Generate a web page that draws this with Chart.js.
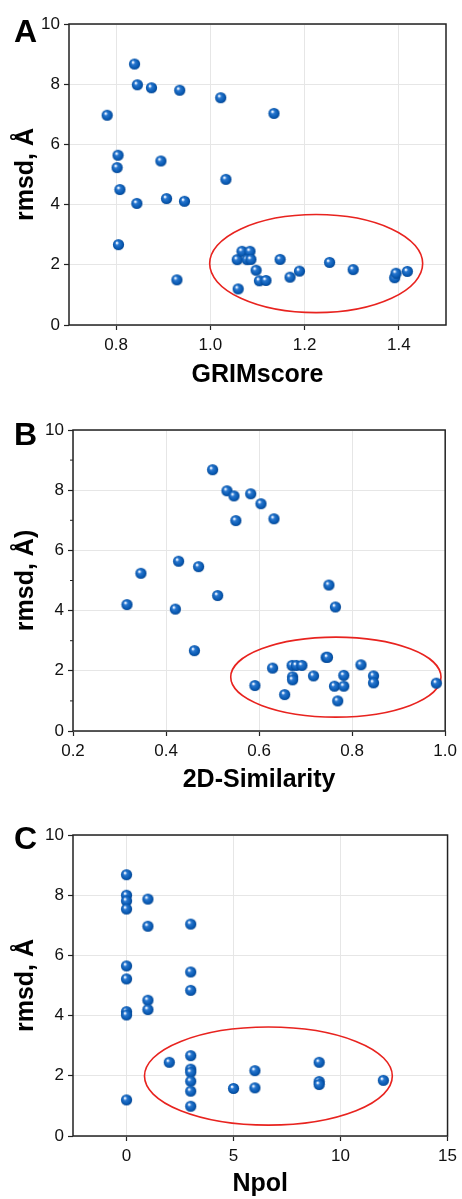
<!DOCTYPE html>
<html>
<head>
<meta charset="utf-8">
<script src="https://cdn.jsdelivr.net/npm/chart.js@4/dist/chart.umd.min.js"></script>
<style>
  body { margin: 0; background: #fff; width: 462px; height: 1199px; overflow: hidden; }
  .panel { position: absolute; left: 0; width: 462px; }
</style>
</head>
<body>
<div class="panel" style="top:0;height:405px"><canvas id="chartA"></canvas></div>
<div class="panel" style="top:405px;height:405px"><canvas id="chartB"></canvas></div>
<div class="panel" style="top:810px;height:389px"><canvas id="chartC"></canvas></div>
<script>
// panel A: GRIMscore vs rmsd
var grimX = [0.839,0.845,0.875,0.935,1.022,1.135,0.781,0.804,0.802,0.895,1.033,0.808,0.844,0.907,0.945,0.805,0.929,1.057,1.067,1.084,1.078,1.086,1.097,1.104,1.118,1.059,1.148,1.169,1.189,1.253,1.303,1.391,1.394,1.418];
var grimY = [8.67,7.98,7.88,7.80,7.55,7.03,6.97,5.64,5.23,5.45,4.84,4.50,4.04,4.20,4.11,2.67,1.50,2.17,2.45,2.45,2.17,2.18,1.82,1.47,1.48,1.20,2.18,1.59,1.79,2.08,1.84,1.57,1.72,1.78];
// panel B: 2D-Similarity vs rmsd
var simX = [0.500,0.531,0.546,0.582,0.604,0.550,0.632,0.427,0.470,0.346,0.750,0.316,0.420,0.511,0.764,0.461,0.591,0.629,0.655,0.671,0.680,0.692,0.672,0.672,0.717,0.744,0.747,0.762,0.782,0.782,0.769,0.819,0.846,0.846,0.981];
var simY = [8.68,7.98,7.81,7.88,7.55,6.99,7.05,5.64,5.46,5.24,4.85,4.20,4.05,4.50,4.12,2.67,1.51,2.09,1.21,2.18,2.18,2.18,1.80,1.70,1.83,2.45,2.45,1.49,1.85,1.49,1.00,2.20,1.83,1.60,1.59];
// panel C: Npol vs rmsd
var npolX = [0,0,0,0,1,1,3,0,0,3,3,1,1,0,0,2,3,3,3,3,3,3,0,5,6,6,9,9,9,12];
var npolY = [8.68,8.00,7.81,7.54,7.87,6.97,7.04,5.65,5.22,5.45,4.84,4.51,4.20,4.13,4.02,2.45,2.67,2.22,2.12,1.82,1.49,0.99,1.20,1.58,2.17,1.60,2.45,1.81,1.71,1.85];

// tick labels
var yTicks = [0, 2, 4, 6, 8, 10];
var yMinorB = [1, 3, 5, 7, 9];
var xTicksA = [0.8, 1.0, 1.2, 1.4];
var xTicksB = [0.2, 0.4, 0.6, 0.8, 1.0];
var xTicksC = [0, 5, 10, 15];

// highlighted regions (centre x, centre y, radius x, radius y) in data units
var ellipseA = [1.2245, 2.04, 0.226, 1.63];
var ellipseB = [0.765, 1.79, 0.226, 1.33];
var ellipseC = [6.63, 1.99, 5.79, 1.63];

var FONT = "'Liberation Sans', Arial, sans-serif";

// blue shaded ball used as point style
function makeBall() {
  var c = document.createElement('canvas');
  c.width = 13; c.height = 13;
  var g = c.getContext('2d');
  var grad = g.createRadialGradient(4.6, 4.4, 0, 6.5, 6.5, 6);
  grad.addColorStop(0, '#ffffff');
  grad.addColorStop(0.14, '#d6e8ff');
  grad.addColorStop(0.32, '#2a78cf');
  grad.addColorStop(0.75, '#0859b2');
  grad.addColorStop(1, '#033f88');
  g.fillStyle = grad;
  g.beginPath();
  g.arc(6.5, 6.5, 5.6, 0, Math.PI * 2);
  g.fill();
  return c;
}
var ball = makeBall();

function toPoints(xs, ys) {
  return xs.map(function (x, i) { return { x: x, y: ys[i] }; });
}

var panelPlugin = {
  id: 'panelExtras',
  beforeDatasetsDraw: function (chart) {
    var p = chart.options.plugins.panelExtras;
    var ctx = chart.ctx, xs = chart.scales.x, ys = chart.scales.y;
    var e = p.ellipse;
    var cx = xs.getPixelForValue(e[0]), cy = ys.getPixelForValue(e[1]);
    var rx = Math.abs(xs.getPixelForValue(e[0] + e[2]) - cx);
    var ry = Math.abs(ys.getPixelForValue(e[1] + e[3]) - cy);
    ctx.save();
    ctx.strokeStyle = '#e8231f';
    ctx.lineWidth = 1.6;
    ctx.beginPath();
    ctx.ellipse(cx, cy, rx, ry, 0, 0, Math.PI * 2);
    ctx.stroke();
    ctx.restore();
  },
  afterDraw: function (chart) {
    var p = chart.options.plugins.panelExtras;
    var ctx = chart.ctx, a = chart.chartArea, ys = chart.scales.y;
    ctx.save();
    ctx.strokeStyle = '#222';
    ctx.lineWidth = 1.5;
    ctx.strokeRect(a.left, a.top, a.right - a.left, a.bottom - a.top);
    if (p.minor) {
      ctx.lineWidth = 1;
      p.minor.forEach(function (v) {
        var y = ys.getPixelForValue(v);
        ctx.beginPath();
        ctx.moveTo(a.left - 3, y);
        ctx.lineTo(a.left, y);
        ctx.stroke();
      });
    }
    ctx.fillStyle = '#000';
    ctx.font = 'bold 32px ' + FONT;
    ctx.textBaseline = 'alphabetic';
    ctx.fillText(p.letter, 14, p.letterY);
    ctx.restore();
  }
};

function makeChart(id, cfg) {
  var el = document.getElementById(id).getContext('2d');
  return new Chart(el, {
    type: 'scatter',
    data: {
      datasets: [{
        data: toPoints(cfg.xs, cfg.ys),
        pointStyle: ball,
        pointRadius: 6,
        pointHoverRadius: 6
      }]
    },
    options: {
      responsive: true,
      maintainAspectRatio: false,
      animation: false,
      events: [],
      layout: { padding: { left: 0, right: cfg.right, top: cfg.top, bottom: 0 } },
      plugins: {
        legend: { display: false },
        tooltip: { enabled: false },
        panelExtras: { ellipse: cfg.ellipse, minor: cfg.minor, letter: cfg.letter, letterY: cfg.letterY }
      },
      scales: {
        x: {
          type: 'linear',
          min: cfg.xMin,
          max: cfg.xMax,
          afterBuildTicks: function (s) { s.ticks = cfg.xTicks.map(function (v) { return { value: v }; }); },
          afterFit: function (s) { s.height = cfg.bottomH; },
          ticks: {
            color: '#111',
            padding: 5,
            maxRotation: 0,
            font: { family: FONT, size: 17 },
            callback: function (v) { return cfg.xFmt(v); }
          },
          grid: { color: '#e6e6e6', lineWidth: 1, tickLength: 5, tickColor: '#222', tickWidth: 1.2 },
          border: { display: false },
          title: {
            display: true,
            text: cfg.xTitle,
            color: '#000',
            font: { family: FONT, size: 25, weight: 'bold' },
            padding: { top: 0, bottom: cfg.titlePad }
          }
        },
        y: {
          type: 'linear',
          min: 0,
          max: 10,
          afterBuildTicks: function (s) { s.ticks = yTicks.map(function (v) { return { value: v }; }); },
          afterFit: function (s) { s.width = cfg.leftW; },
          ticks: {
            color: '#111',
            padding: 4,
            font: { family: FONT, size: 17 },
            callback: function (v) { return String(v); }
          },
          grid: { color: '#e6e6e6', lineWidth: 1, tickLength: 5, tickColor: '#222', tickWidth: 1.2 },
          border: { display: false },
          title: {
            display: true,
            text: cfg.yTitle,
            color: '#000',
            font: { family: FONT, size: 25, weight: 'bold' },
            padding: { top: 11, bottom: 0 }
          }
        }
      }
    },
    plugins: [panelPlugin]
  });
}

makeChart('chartA', {
  xs: grimX, ys: grimY, xMin: 0.7, xMax: 1.5, xTicks: xTicksA,
  xFmt: function (v) { return v.toFixed(1); },
  xTitle: 'GRIMscore', yTitle: 'rmsd, Å',
  ellipse: ellipseA, minor: null, letter: 'A', letterY: 42,
  top: 24, right: 16, leftW: 69, bottomH: 80, titlePad: 15
});
makeChart('chartB', {
  xs: simX, ys: simY, xMin: 0.2, xMax: 1.0, xTicks: xTicksB,
  xFmt: function (v) { return v.toFixed(1); },
  xTitle: '2D-Similarity', yTitle: 'rmsd, Å)',
  ellipse: ellipseB, minor: yMinorB, letter: 'B', letterY: 40,
  top: 25, right: 13, leftW: 73, bottomH: 79, titlePad: 15
});
makeChart('chartC', {
  xs: npolX, ys: npolY, xMin: -2.5, xMax: 15, xTicks: xTicksC,
  xFmt: function (v) { return String(v); },
  xTitle: 'Npol', yTitle: 'rmsd, Å',
  ellipse: ellipseC, minor: null, letter: 'C', letterY: 39,
  top: 25, right: 13, leftW: 73, bottomH: 63, titlePad: 0
});
</script>
</body>
</html>
